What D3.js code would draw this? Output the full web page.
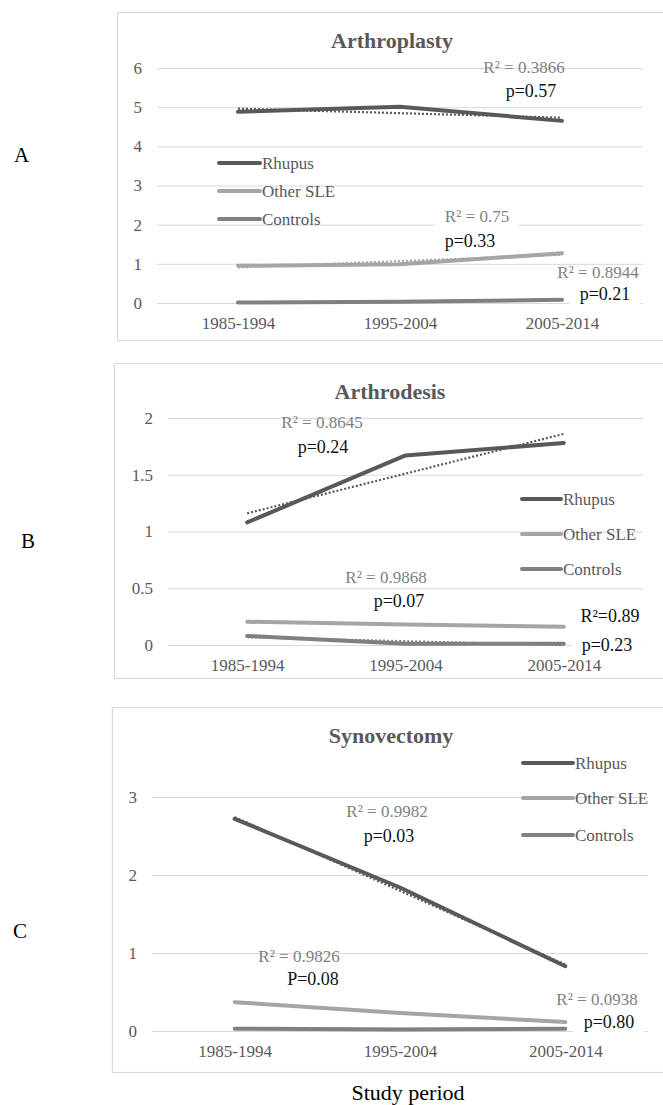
<!DOCTYPE html>
<html>
<head>
<meta charset="utf-8">
<script src="https://cdn.jsdelivr.net/npm/d3@7"></script>
<style>
  body { margin: 0; background: #fff; }
  svg text { font-family: "Liberation Serif", "Times New Roman", serif; }
  .grid line { stroke: #d9d9d9; stroke-width: 1; }
  .tick text { fill: #595959; font-size: 17px; }
</style>
</head>
<body>
<svg width="663" height="1105"></svg>
<script>
const periods = ["1985-1994", "1995-2004", "2005-2014"];
const groups = ["Rhupus", "Other SLE", "Controls"];

// rate per period
const arthroplastyRhupus = [4.88, 5.01, 4.65];
const arthroplastyOtherSLE = [0.95, 0.99, 1.27];
const arthroplastyControls = [0.01, 0.03, 0.08];

const arthrodesisRhupus = [1.08, 1.67, 1.78];
const arthrodesisOtherSLE = [0.205, 0.18, 0.16];
const arthrodesisControls = [0.08, 0.01, 0.01];

const synovectomyRhupus = [2.72, 1.84, 0.83];
const synovectomyOtherSLE = [0.37, 0.23, 0.115];
const synovectomyControls = [0.03, 0.02, 0.03];

const arthroplastyTicks = [0, 1, 2, 3, 4, 5, 6];
const arthrodesisTicks = [0, 0.5, 1, 1.5, 2];
const synovectomyTicks = [0, 1, 2, 3];

const arthroplastyNotes = ["R² = 0.3866", "p=0.57", "R² = 0.75", "p=0.33", "R² = 0.8944", "p=0.21"];
const arthrodesisNotes = ["R² = 0.8645", "p=0.24", "R² = 0.9868", "p=0.07", "R²=0.89", "p=0.23"];
const synovectomyNotes = ["R² = 0.9982", "p=0.03", "R² = 0.9826", "P=0.08", "R² = 0.0938", "p=0.80"];

const colors = ["#595959", "#a5a5a5", "#808080"];

const svg = d3.select("svg");

const panels = [
  {
    letter: "A", letterPos: [14, 162], title: "Arthroplasty", titlePos: [392, 48],
    box: [117, 12, 340], left: 157, right: 643, y0: 303, yTop: 68,
    ticks: arthroplastyTicks, series: [arthroplastyRhupus, arthroplastyOtherSLE, arthroplastyControls],
    legend: { x1: 219, x2: 260, rows: [163, 191, 219] },
    notes: arthroplastyNotes,
    notePos: [[524, 73, false, "#7f7f7f"], [531, 97, false, "#111"], [477, 222, true, "#7f7f7f"],
              [470, 247, false, "#111"], [598, 278, false, "#7f7f7f"], [605, 300, true, "#111"]]
  },
  {
    letter: "B", letterPos: [21, 548], title: "Arthrodesis", titlePos: [390, 399],
    box: [114, 363, 678], left: 168, right: 643, y0: 645, yTop: 418,
    ticks: arthrodesisTicks, series: [arthrodesisRhupus, arthrodesisOtherSLE, arthrodesisControls],
    legend: { x1: 522, x2: 561, rows: [499, 534, 569] },
    notes: arthrodesisNotes,
    notePos: [[322, 428, false, "#7f7f7f"], [323, 453, false, "#111"], [386, 583, true, "#7f7f7f"],
              [399, 607, false, "#111"], [610, 622, false, "#111"], [607, 651, true, "#111"]]
  },
  {
    letter: "C", letterPos: [13, 938], title: "Synovectomy", titlePos: [391, 743],
    box: [112, 707, 1072], left: 152, right: 648, y0: 1031, yTop: 797,
    ticks: synovectomyTicks, series: [synovectomyRhupus, synovectomyOtherSLE, synovectomyControls],
    legend: { x1: 523, x2: 573, rows: [763, 798, 835] },
    notes: synovectomyNotes,
    notePos: [[387, 817, false, "#7f7f7f"], [389, 842, false, "#111"], [299, 962, false, "#7f7f7f"],
              [313, 985, false, "#111"], [597, 1005, false, "#7f7f7f"], [609, 1028, true, "#111"]]
  }
];

// least squares trend over period index
function trend(values) {
  const xs = values.map((d, i) => i);
  const mx = d3.mean(xs), my = d3.mean(values);
  const slope = d3.sum(xs, (x, i) => (x - mx) * (values[i] - my)) / d3.sum(xs, x => (x - mx) ** 2);
  return xs.map(x => my + slope * (x - mx));
}

panels.forEach(p => {
  // outer chart box (right side runs off the page)
  svg.append("rect")
    .attr("x", p.box[0] + 0.5).attr("y", p.box[1] + 0.5)
    .attr("width", 663 - p.box[0] + 10).attr("height", p.box[2] - p.box[1])
    .attr("fill", "none").attr("stroke", "#d9d9d9").attr("stroke-width", 1.2);

  const x = d3.scalePoint().domain(periods).range([p.left, p.right]).padding(0.5);
  const y = d3.scaleLinear().domain([0, d3.max(p.ticks)]).range([p.y0, p.yTop]);

  svg.append("g")
    .attr("class", "grid")
    .attr("transform", `translate(${p.left},0)`)
    .call(d3.axisLeft(y).tickValues(p.ticks).tickSize(-(p.right - p.left)).tickPadding(15).tickFormat(d3.format("")))
    .call(g => g.select(".domain").remove());

  svg.append("g")
    .attr("transform", `translate(0,${p.y0})`)
    .call(d3.axisBottom(x).tickSize(0).tickPadding(14))
    .call(g => g.select(".domain").remove());

  // annotation backgrounds + texts
  const notes = svg.append("g");
  p.notes.forEach((t, i) => {
    const [nx, ny, bg, col] = p.notePos[i];
    const txt = notes.append("text")
      .attr("x", nx).attr("y", ny)
      .attr("text-anchor", "middle")
      .attr("font-size", col === "#111" ? "18px" : "17px")
      .attr("fill", col)
      .text(t);
    if (bg) {
      const b = txt.node().getBBox();
      notes.insert("rect", "text")
        .attr("x", b.x - 10).attr("y", b.y).attr("width", b.width + 20).attr("height", b.height)
        .attr("fill", "#fff");
    }
  });

  const line = d3.line().x((d, i) => x(periods[i])).y(d => y(d));

  p.series.forEach((vals, k) => {
    svg.append("path")
      .attr("d", line(vals))
      .attr("fill", "none")
      .attr("stroke", colors[k])
      .attr("stroke-width", 4)
      .attr("stroke-linecap", "round")
      .attr("stroke-linejoin", "round");
  });

  p.series.forEach((vals, k) => {
    svg.append("path")
      .attr("d", line(trend(vals)))
      .attr("fill", "none")
      .attr("stroke", colors[k])
      .attr("stroke-width", 2.2)
      .attr("stroke-dasharray", "2,2");
  });

  notes.raise();

  // legend
  groups.forEach((name, k) => {
    const ly = p.legend.rows[k];
    svg.append("line")
      .attr("x1", p.legend.x1).attr("x2", p.legend.x2)
      .attr("y1", ly).attr("y2", ly)
      .attr("stroke", colors[k]).attr("stroke-width", 4).attr("stroke-linecap", "round");
    svg.append("text")
      .attr("x", p.legend.x2 + 2).attr("y", ly).attr("dy", "0.35em")
      .attr("font-size", "17px").attr("fill", "#595959")
      .text(name);
  });

  svg.append("text")
    .attr("x", p.titlePos[0]).attr("y", p.titlePos[1])
    .attr("text-anchor", "middle")
    .attr("font-size", "22px").attr("font-weight", "bold").attr("fill", "#595959")
    .text(p.title);

  svg.append("text")
    .attr("x", p.letterPos[0]).attr("y", p.letterPos[1])
    .attr("font-size", "21px").attr("fill", "#000")
    .text(p.letter);
});

svg.append("text")
  .attr("x", 408).attr("y", 1100)
  .attr("text-anchor", "middle")
  .attr("font-size", "22px").attr("fill", "#000")
  .text("Study period");
</script>
</body>
</html>
